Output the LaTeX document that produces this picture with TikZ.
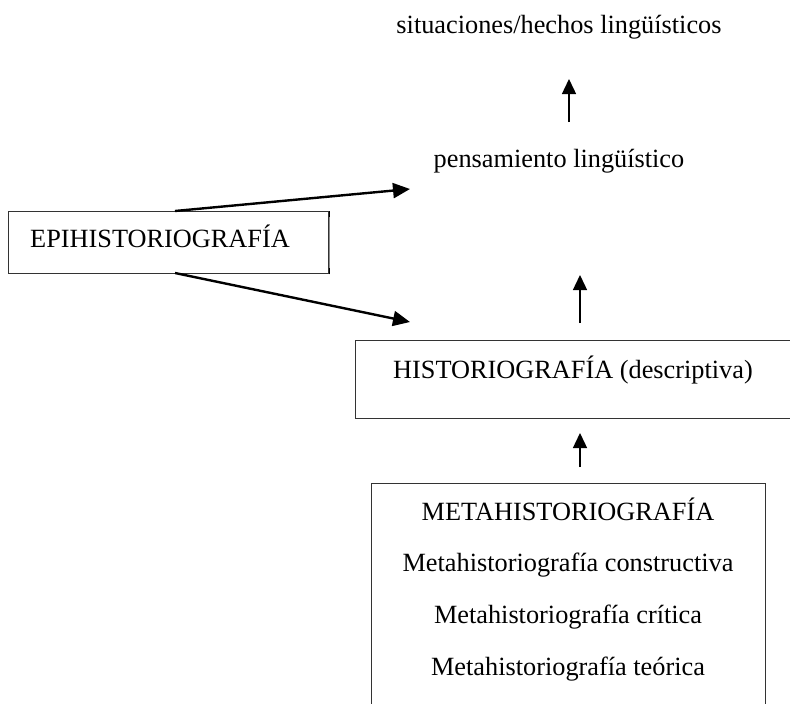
\documentclass[tikz,border=0pt]{standalone}
\usepackage{fontspec}
\setmainfont{Liberation Serif}
\usetikzlibrary{arrows.meta}
\begin{document}
\begin{tikzpicture}[x=1pt,y=-1pt,
  frame/.style={draw=black!80, line width=1.3pt, inner sep=0pt, anchor=north west},
  label/.style={inner sep=0pt, font=\fontsize{26.3}{30}\selectfont},
  upline/.style={line width=1.4pt, -{Triangle[length=15pt,width=14pt]}},
  slant/.style={line width=2.4pt, -{Triangle[length=17pt,width=15pt]}}]
\useasboundingbox (0,0) rectangle (790,704);
\clip (0,0) rectangle (790,704);

% boxes
\node[frame, minimum width=320pt, minimum height=62pt] (epibox) at (8,211) {};
\node[frame, minimum width=470pt, minimum height=78pt] (histbox) at (355,340) {};
\node[frame, minimum width=394pt, minimum height=260pt] (metabox) at (371,483) {};

% the right side of the left box is a faint line with dark ends
\draw[white, line width=1.6pt] (epibox.north east) -- (epibox.south east);
\draw[black!45, line width=0.8pt] (epibox.north east) -- (epibox.south east);
\draw[black, line width=1.4pt] (epibox.north east) -- ++(0,6)
  (epibox.south east) -- ++(0,-6);

% texts
\node[label, anchor=base] (sit) at (559,33) {situaciones/hechos lingüísticos};
\node[label, anchor=base] (pens) at (559,167) {pensamiento lingüístico};
\node[label, anchor=base west] (epi) at (30,247) {EPIHISTORIOGRAFÍA};
\node[label, anchor=base west] (hist) at (393,378) {HISTORIOGRAFÍA (descriptiva)};
\node[label, anchor=base] (meta) at (568,520) {METAHISTORIOGRAFÍA};
\node[label, anchor=base] (mcons) at (568,571) {Metahistoriografía constructiva};
\node[label, anchor=base] (mcrit) at (568,623) {Metahistoriografía crítica};
\node[label, anchor=base] (mteo) at (568,675) {Metahistoriografía teórica};

% arrow ends
\coordinate (a1s) at (569,122);
\coordinate (a1e) at (569,79);
\coordinate (a2s) at (580,323);
\coordinate (a2e) at (580,275);
\coordinate (a3s) at (580,467);
\coordinate (a3e) at (580,433);
\coordinate (epiup) at (175,211);
\coordinate (epidown) at (175,273);
\coordinate (toPens) at (410,189);
\coordinate (toHist) at (410,322);

% connectors
\draw[upline] (a1s) -- (a1e);
\draw[upline] (a2s) -- (a2e);
\draw[upline] (a3s) -- (a3e);
\draw[slant] (epiup) -- (toPens);
\draw[slant] (epidown) -- (toHist);
\end{tikzpicture}
\end{document}
